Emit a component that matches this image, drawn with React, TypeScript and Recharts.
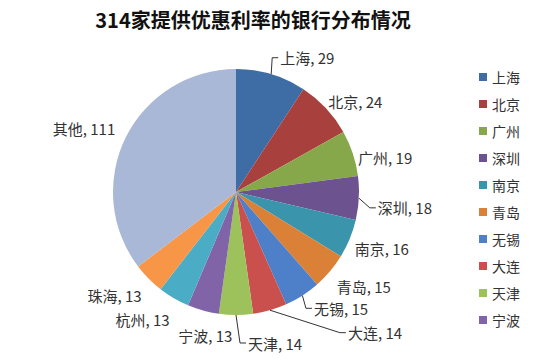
import { PieChart, Pie, Cell } from "recharts";

// city names, values
const cities = ["上海", "北京", "广州", "深圳", "南京", "青岛", "无锡", "大连", "天津", "宁波", "杭州", "珠海", "其他"];
const bankCounts = [29, 24, 19, 18, 16, 15, 15, 14, 14, 13, 13, 13, 111];
const legendCities = ["上海", "北京", "广州", "深圳", "南京", "青岛", "无锡", "大连", "天津", "宁波"];

const sliceColors = [
    "#3E6CA4", "#A8403D", "#87A84A", "#6D5290", "#3A95AC", "#DA8137",
    "#4D80C8", "#C9504C", "#9DC25B", "#8164A8", "#4BACC6", "#F79646", "#A9B8D6",
];

// label layout tweaks (dx, dy, leader line) - mimics excel's best-fit placement
const labelLayout: Record<string, [number, number, boolean]> = {
    上海: [5, -3, true],
    北京: [-8, 3, false],
    广州: [-8, 9, false],
    深圳: [5, 9, true],
    南京: [-8, 4, false],
    青岛: [-4, 6, false],
    无锡: [4, 1, true],
    大连: [74, 9, true],
    天津: [12, 14, true],
    宁波: [33, 11, false],
    杭州: [3, 9, false],
    珠海: [3, 7, false],
    其他: [2, -3, false],
};

const FONT = "'Noto Sans CJK SC', 'Noto Sans', sans-serif";
const RAD = Math.PI / 180;

const data = cities.map((name, i) => ({ name, value: bankCounts[i] }));

const renderLabel = (props: any) => {
    const { cx, cy, midAngle, outerRadius, name, value } = props;
    const r = outerRadius + 14;
    const bx = cx + r * Math.cos(-midAngle * RAD);
    const by = cy + r * Math.sin(-midAngle * RAD);
    const [dx, dy, leader] = labelLayout[name] || [0, 0, false];
    const tx = bx + dx;
    const ty = by + dy;
    const anchor = bx >= cx - 0.5 ? "start" : "end";
    const ex = cx + outerRadius * Math.cos(-midAngle * RAD);
    const ey = cy + outerRadius * Math.sin(-midAngle * RAD);
    return (
        <g>
            {leader && (
                <polyline
                    points={`${ex},${ey} ${tx - 8},${ty} ${tx - 2},${ty}`}
                    fill="none"
                    stroke="#333"
                    strokeWidth={1}
                />
            )}
            <text
                x={tx}
                y={ty}
                textAnchor={anchor}
                dominantBaseline="central"
                fill="#333"
                fontSize={15}
                fontFamily={FONT}
            >
                {`${name}, ${value}`}
            </text>
        </g>
    );
};

export default function App() {
    return (
        <div style={{ position: "absolute", left: 0, top: 0, width: 550, height: 359, background: "#fff" }}>
            <div
                style={{
                    position: "absolute",
                    left: 0,
                    width: 506,
                    top: 6,
                    textAlign: "center",
                    fontFamily: FONT,
                    fontWeight: 700,
                    fontSize: 20,
                    color: "#111",
                    lineHeight: "28px",
                }}
            >
                314家提供优惠利率的银行分布情况
            </div>

            <PieChart
                width={550}
                height={359}
                margin={{ top: 0, right: 0, bottom: 0, left: 0 }}
                style={{ position: "absolute", left: 0, top: 0 }}
            >
                <Pie
                    data={data}
                    dataKey="value"
                    nameKey="name"
                    cx={236}
                    cy={192}
                    outerRadius={123}
                    startAngle={90}
                    endAngle={-270}
                    stroke="none"
                    label={renderLabel}
                    labelLine={false}
                    isAnimationActive={false}
                >
                    {data.map((d, i) => (
                        <Cell key={d.name} fill={sliceColors[i]} />
                    ))}
                </Pie>
            </PieChart>

            <div style={{ position: "absolute", left: 479, top: 63, fontFamily: FONT, fontSize: 14, color: "#333" }}>
                {legendCities.map((c, i) => (
                    <div key={c} style={{ display: "flex", alignItems: "center", height: 27.1 }}>
                        <span style={{ width: 8, height: 8, background: sliceColors[i], marginRight: 5 }} />
                        <span>{c}</span>
                    </div>
                ))}
            </div>
        </div>
    );
}
